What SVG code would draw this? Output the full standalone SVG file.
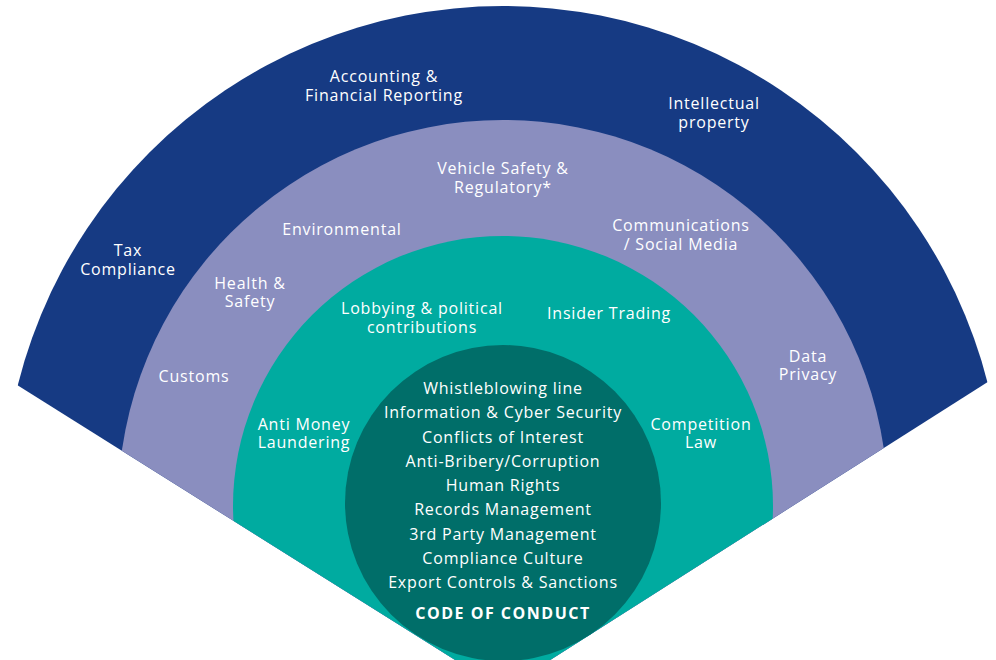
<svg xmlns="http://www.w3.org/2000/svg" width="996" height="660" viewBox="0 0 996 660">
<style>
text{font-family:"Open Sans","Noto Sans","Liberation Sans",sans-serif;font-size:16px;letter-spacing:0.8px;fill:#ffffff;text-anchor:middle}
.b{font-weight:bold;letter-spacing:1.5px}
</style>
<defs>
<clipPath id="wedge"><polygon points="503,690 -300,186 -300,-10 1296,-10 1296,186"/></clipPath>
</defs>
<rect width="996" height="660" fill="#ffffff"/>
<g id="rings" clip-path="url(#wedge)">
<circle id="ring-outer" cx="503" cy="506" r="500" fill="#163a83"/>
<circle id="ring-middle" cx="503" cy="505" r="385" fill="#8a8ebf"/>
<circle id="ring-inner" cx="503" cy="506" r="270" fill="#00aba0"/>
</g>
<g id="core"><circle cx="503" cy="503" r="158" fill="#006e69"/></g>
<g id="outer-labels">
<text x="384" y="82">Accounting &amp;</text>
<text x="384" y="101">Financial Reporting</text>
<text x="714" y="109">Intellectual</text>
<text x="714" y="128">property</text>
<text x="128" y="256">Tax</text>
<text x="128" y="275">Compliance</text>
</g>
<g id="middle-labels">
<text x="503" y="174">Vehicle Safety &amp;</text>
<text x="503" y="193">Regulatory*</text>
<text x="342" y="235">Environmental</text>
<text x="681" y="231">Communications</text>
<text x="681" y="250">/ Social Media</text>
<text x="250" y="289">Health &amp;</text>
<text x="250" y="307">Safety</text>
<text x="194" y="382">Customs</text>
<text x="808" y="362">Data</text>
<text x="808" y="380">Privacy</text>
</g>
<g id="inner-labels">
<text x="422" y="314">Lobbying &amp; political</text>
<text x="422" y="333">contributions</text>
<text x="609" y="319">Insider Trading</text>
<text x="304" y="430">Anti Money</text>
<text x="304" y="448">Laundering</text>
<text x="701" y="430">Competition</text>
<text x="701" y="448">Law</text>
</g>
<g id="core-labels">
<text x="503" y="394">Whistleblowing line</text>
<text x="503" y="418">Information &amp; Cyber Security</text>
<text x="503" y="443">Conflicts of Interest</text>
<text x="503" y="467">Anti-Bribery/Corruption</text>
<text x="503" y="491">Human Rights</text>
<text x="503" y="515">Records Management</text>
<text x="503" y="540">3rd Party Management</text>
<text x="503" y="564">Compliance Culture</text>
<text x="503" y="588">Export Controls &amp; Sanctions</text>
<text class="b" x="503" y="619">CODE OF CONDUCT</text>
</g>
<g id="connectors"/>
</svg>
